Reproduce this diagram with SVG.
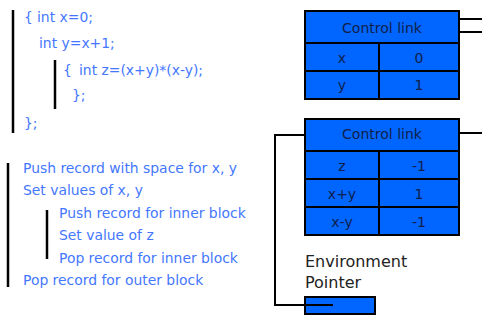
<svg xmlns="http://www.w3.org/2000/svg" width="482" height="320" viewBox="0 0 482 320">
<style>
.code{font-family:"DejaVu Sans",sans-serif;font-size:13.9px;fill:#4477ff}
.bar{stroke:#000;stroke-width:2.5;fill:none}
.cell{fill:#0066ff;stroke:#000;stroke-width:2}
.ct{font-family:"DejaVu Sans",sans-serif;font-size:14px;fill:#10204a;text-anchor:middle}
.lbl{font-family:"DejaVu Sans",sans-serif;font-size:16px;fill:#222}
.conn{stroke:#000;stroke-width:2;fill:none}
</style>
<rect width="482" height="320" fill="#fff"/>
<g id="code">
<line class="bar" x1="13" y1="10" x2="13" y2="133"/>
<line class="bar" x1="55" y1="60" x2="55" y2="109"/>
<text class="code" x="24" y="22">{ <tspan x="37">int x=0;</tspan></text>
<text class="code" x="39" y="48">int y=x+1;</text>
<text class="code" x="63" y="75">{ <tspan x="79">int z=(x+y)*(x-y);</tspan></text>
<text class="code" x="72" y="100">};</text>
<text class="code" x="24" y="128">};</text>
</g>
<g id="steps">
<line class="bar" x1="8" y1="163" x2="8" y2="287"/>
<line class="bar" x1="47" y1="210" x2="47" y2="259"/>
<text class="code" x="23" y="173">Push record with space for x, y</text>
<text class="code" x="23" y="195">Set values of x, y</text>
<text class="code" x="59" y="218">Push record for inner block</text>
<text class="code" x="59" y="240">Set value of z</text>
<text class="code" x="59" y="263">Pop record for inner block</text>
<text class="code" x="23" y="285">Pop record for outer block</text>
</g>
<g id="outer-record">
<rect class="cell" x="305" y="11" width="154" height="32"/>
<rect class="cell" x="305" y="43" width="74" height="28"/>
<rect class="cell" x="379" y="43" width="80" height="28"/>
<rect class="cell" x="305" y="71" width="74" height="28"/>
<rect class="cell" x="379" y="71" width="80" height="28"/>
<text class="ct" x="382" y="33">Control link</text>
<text class="ct" x="342" y="63">x</text>
<text class="ct" x="419" y="63">0</text>
<text class="ct" x="342" y="90">y</text>
<text class="ct" x="419" y="90">1</text>
</g>
<g id="inner-record">
<rect class="cell" x="305" y="119" width="154" height="32"/>
<rect class="cell" x="305" y="151" width="74" height="28"/>
<rect class="cell" x="379" y="151" width="80" height="28"/>
<rect class="cell" x="305" y="179" width="74" height="28"/>
<rect class="cell" x="379" y="179" width="80" height="28"/>
<rect class="cell" x="305" y="207" width="74" height="28"/>
<rect class="cell" x="379" y="207" width="80" height="28"/>
<text class="ct" x="382" y="139">Control link</text>
<text class="ct" x="342" y="171">z</text>
<text class="ct" x="419" y="171">-1</text>
<text class="ct" x="342" y="199">x+y</text>
<text class="ct" x="419" y="199">1</text>
<text class="ct" x="342" y="227">x-y</text>
<text class="ct" x="419" y="227">-1</text>
</g>
<g id="env-pointer">
<text class="lbl" x="305" y="267">Environment</text>
<text class="lbl" x="305" y="288">Pointer</text>
<rect class="cell" x="305" y="297" width="70" height="17"/>
</g>
<g id="connectors">
<line class="conn" x1="459" y1="19" x2="482" y2="19"/>
<line class="conn" x1="459" y1="32" x2="482" y2="32"/>
<line class="conn" x1="459" y1="133" x2="482" y2="133"/>
<polyline class="conn" points="305,135 275,135 275,305 333,305"/>
</g>
</svg>
